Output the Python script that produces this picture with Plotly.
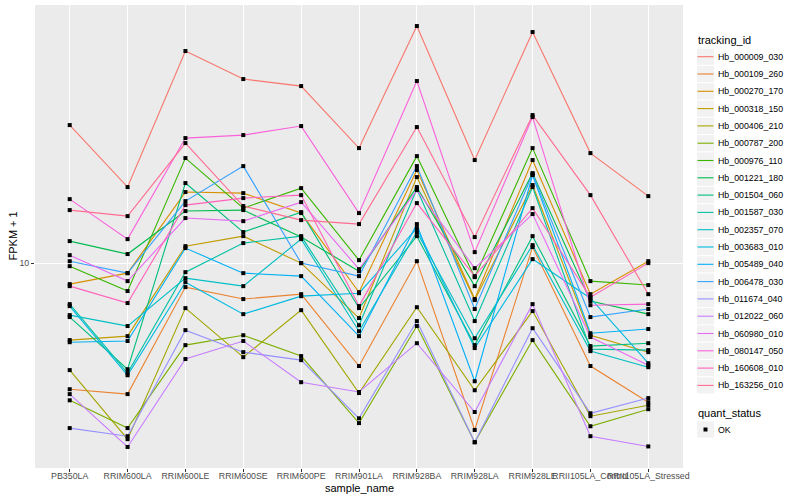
import plotly.graph_objects as go
import numpy as np

samples = ["PB350LA", "RRIM600LA", "RRIM600LE", "RRIM600SE", "RRIM600PE", "RRIM901LA",
           "RRIM928BA", "RRIM928LA", "RRIM928LE", "RRII105LA_Control", "RRII105LA_Stressed"]

tracking_ids = ["Hb_000009_030", "Hb_000109_260", "Hb_000270_170", "Hb_000318_150",
                "Hb_000406_210", "Hb_000787_200", "Hb_000976_110", "Hb_001221_180",
                "Hb_001504_060", "Hb_001587_030", "Hb_002357_070", "Hb_003683_010",
                "Hb_005489_040", "Hb_006478_030", "Hb_011674_040", "Hb_012022_060",
                "Hb_060980_010", "Hb_080147_050", "Hb_160608_010", "Hb_163256_010"]

# FPKM + 1 values per gene, one per sample
Hb_000009_030 = [28.84, 17.92, 50.89, 41.05, 38.90, 24.17, 61.66, 22.05, 58.88, 23.26, 16.72]
Hb_000109_260 = [3.80, 3.66, 8.32, 7.59, 7.88, 4.54, 10.15, 2.78, 11.31, 4.54, 3.44]
Hb_000270_170 = [8.51, 9.26, 17.25, 17.11, 14.68, 8.00, 20.42, 7.59, 22.05, 7.88, 10.15]
Hb_000318_150 = [5.54, 5.71, 11.39, 12.30, 10.00, 6.56, 19.35, 7.53, 18.20, 5.75, 5.05]
Hb_000406_210 = [4.40, 2.59, 7.08, 4.86, 6.97, 3.69, 7.13, 3.77, 6.92, 3.09, 3.36]
Hb_000787_200 = [3.49, 2.82, 5.33, 5.75, 4.90, 2.93, 6.17, 2.53, 5.54, 2.86, 3.26]
Hb_000976_110 = [9.77, 8.07, 22.39, 15.25, 17.78, 10.23, 22.73, 8.98, 24.17, 8.71, 8.45]
Hb_001221_180 = [11.84, 10.72, 14.91, 15.02, 12.21, 9.40, 17.92, 8.38, 19.95, 7.47, 6.76]
Hb_001504_060 = [6.61, 4.43, 18.48, 12.69, 14.79, 7.08, 12.30, 5.33, 12.30, 5.29, 5.41]
Hb_001587_030 = [7.30, 4.30, 9.33, 11.66, 12.30, 6.21, 17.65, 6.41, 17.92, 5.17, 5.13]
Hb_002357_070 = [6.71, 6.17, 8.91, 8.38, 12.02, 5.93, 12.69, 5.62, 11.48, 5.09, 4.50]
Hb_003683_010 = [7.19, 4.23, 8.64, 6.76, 7.76, 7.94, 13.08, 5.21, 10.31, 7.64, 4.64]
Hb_005489_040 = [5.45, 5.50, 11.22, 9.26, 9.05, 5.71, 13.49, 4.04, 19.65, 5.84, 6.03]
Hb_006478_030 = [10.15, 9.26, 16.09, 21.05, 10.00, 9.05, 21.05, 7.03, 19.80, 6.61, 7.03]
Hb_011674_040 = [2.82, 2.65, 5.98, 5.05, 4.75, 3.04, 6.41, 2.53, 6.07, 3.16, 3.55]
Hb_012022_060 = [3.66, 2.44, 4.79, 5.50, 4.01, 3.72, 5.41, 3.19, 7.30, 2.65, 2.45]
Hb_060980_010 = [10.63, 8.71, 14.13, 13.80, 15.97, 9.55, 17.51, 9.62, 14.57, 5.67, 4.57]
Hb_080147_050 = [16.34, 12.02, 26.10, 26.71, 28.62, 14.68, 40.43, 10.88, 30.67, 7.24, 7.30]
Hb_160608_010 = [8.38, 7.36, 15.61, 16.47, 16.85, 7.19, 15.85, 9.05, 15.25, 7.70, 10.00]
Hb_163256_010 = [15.02, 14.34, 25.12, 15.49, 13.91, 13.49, 28.40, 12.21, 31.14, 16.85, 7.88]

series = [Hb_000009_030, Hb_000109_260, Hb_000270_170, Hb_000318_150, Hb_000406_210,
          Hb_000787_200, Hb_000976_110, Hb_001221_180, Hb_001504_060, Hb_001587_030,
          Hb_002357_070, Hb_003683_010, Hb_005489_040, Hb_006478_030, Hb_011674_040,
          Hb_012022_060, Hb_060980_010, Hb_080147_050, Hb_160608_010, Hb_163256_010]

quant_status = ["OK"]

colors = ["#F8766D", "#EA8331", "#D89000", "#C09B00", "#A3A500", "#7CAE00", "#39B600",
          "#00BB4E", "#00BF7D", "#00C1A3", "#00BFC4", "#00BAE0", "#00B0F6", "#35A2FF",
          "#9590FF", "#C77CFF", "#E76BF3", "#FA62DB", "#FF62BC", "#FF6C91"]

FONT = "Liberation Sans, Arial, sans-serif"
W, H = 800, 500
PL, PR, PT, PB = 35, 683, 5, 468   # panel edges in pixels


def px(x):
    return (x - PL) / (PR - PL)


def py(y):
    return (PB - y) / (PB - PT)


fig = go.Figure()
for name, vals, col in zip(tracking_ids, series, colors):
    fig.add_trace(go.Scatter(x=samples, y=vals, mode="lines", name=name,
                             line=dict(color=col, width=1.1), showlegend=False))

all_x = [s for vals in series for s in samples]
all_y = [v for vals in series for v in vals]
fig.add_trace(go.Scatter(x=all_x, y=all_y, mode="markers", name=quant_status[0],
                         marker=dict(symbol="square", size=4, color="black"),
                         showlegend=False))

logs = np.log10(all_y)
span = logs.max() - logs.min()
yrange = [logs.min() - 0.05 * span, logs.max() + 0.05 * span]

# ---- ggplot-like legend and axis titles built from layout shapes/annotations ----
shapes, annotations = [], []
annotations.append(dict(text="sample_name", x=0.5, y=py(488), xref="paper", yref="paper",
                        xanchor="center", yanchor="middle", showarrow=False,
                        font=dict(size=11, color="black")))
annotations.append(dict(text="FPKM + 1", x=px(12), y=0.5, xref="paper", yref="paper",
                        xanchor="center", yanchor="middle", showarrow=False, textangle=-90,
                        font=dict(size=11, color="black")))

KX0, KX1 = 697, 714
ROW0, STEP = 56.7, 17.3
annotations.append(dict(text="tracking_id", x=px(696), y=py(40.5), xref="paper", yref="paper",
                        xanchor="left", yanchor="middle", showarrow=False,
                        font=dict(size=11, color="black")))
for i, (name, col) in enumerate(zip(tracking_ids, colors)):
    yc = ROW0 + i * STEP
    shapes.append(dict(type="rect", xref="paper", yref="paper",
                       x0=px(KX0), x1=px(KX1), y0=py(yc - 8.1), y1=py(yc + 8.1),
                       fillcolor="#F2F2F2", line=dict(width=0), layer="above"))
    shapes.append(dict(type="line", xref="paper", yref="paper",
                       x0=px(KX0 + 0.5), x1=px(KX1 - 0.5), y0=py(yc), y1=py(yc),
                       line=dict(color=col, width=1.1), layer="above"))
    annotations.append(dict(text=name, x=px(716), y=py(yc), xref="paper", yref="paper",
                            xanchor="left", yanchor="middle", showarrow=False,
                            font=dict(size=8.8, color="black")))

QY_T, QY_K = 412.5, 429.5
annotations.append(dict(text="quant_status", x=px(696), y=py(QY_T), xref="paper", yref="paper",
                        xanchor="left", yanchor="middle", showarrow=False,
                        font=dict(size=11, color="black")))
shapes.append(dict(type="rect", xref="paper", yref="paper",
                   x0=px(KX0), x1=px(KX1), y0=py(QY_K - 8.1), y1=py(QY_K + 8.1),
                   fillcolor="#F2F2F2", line=dict(width=0), layer="above"))
shapes.append(dict(type="rect", xref="paper", yref="paper",
                   x0=px(703.5), x1=px(707.5), y0=py(QY_K - 2), y1=py(QY_K + 2),
                   fillcolor="black", line=dict(width=0), layer="above"))
annotations.append(dict(text=quant_status[0], x=px(716), y=py(QY_K), xref="paper", yref="paper",
                        xanchor="left", yanchor="middle", showarrow=False,
                        font=dict(size=8.8, color="black")))

fig.update_layout(
    width=W, height=H,
    margin=dict(l=PL, r=W - PR, t=PT, b=H - PB),
    paper_bgcolor="white", plot_bgcolor="#EBEBEB",
    font=dict(family=FONT, size=11, color="black"),
    showlegend=False,
    shapes=shapes, annotations=annotations,
)
fig.update_xaxes(
    type="category", categoryorder="array", categoryarray=samples,
    range=[-0.6, len(samples) - 0.4],
    showgrid=True, gridcolor="white", gridwidth=1.2, zeroline=False,
    ticks="outside", ticklen=3, tickcolor="#333333", tickwidth=1, tickangle=0,
    ticklabelstandoff=-4,
    tickfont=dict(size=8.8, color="#4D4D4D"),
    automargin=False,
)
fig.update_yaxes(
    type="log", range=yrange, tickvals=[10], ticktext=["10"],
    showgrid=True, gridcolor="white", gridwidth=1.2, zeroline=False,
    ticks="outside", ticklen=3, tickcolor="#333333", tickwidth=1,
    tickfont=dict(size=8.8, color="#4D4D4D"),
    automargin=False,
)

fig.write_html("out.html", config={"displayModeBar": False},
               post_script="document.body.style.margin='0';document.body.style.padding='0';")
